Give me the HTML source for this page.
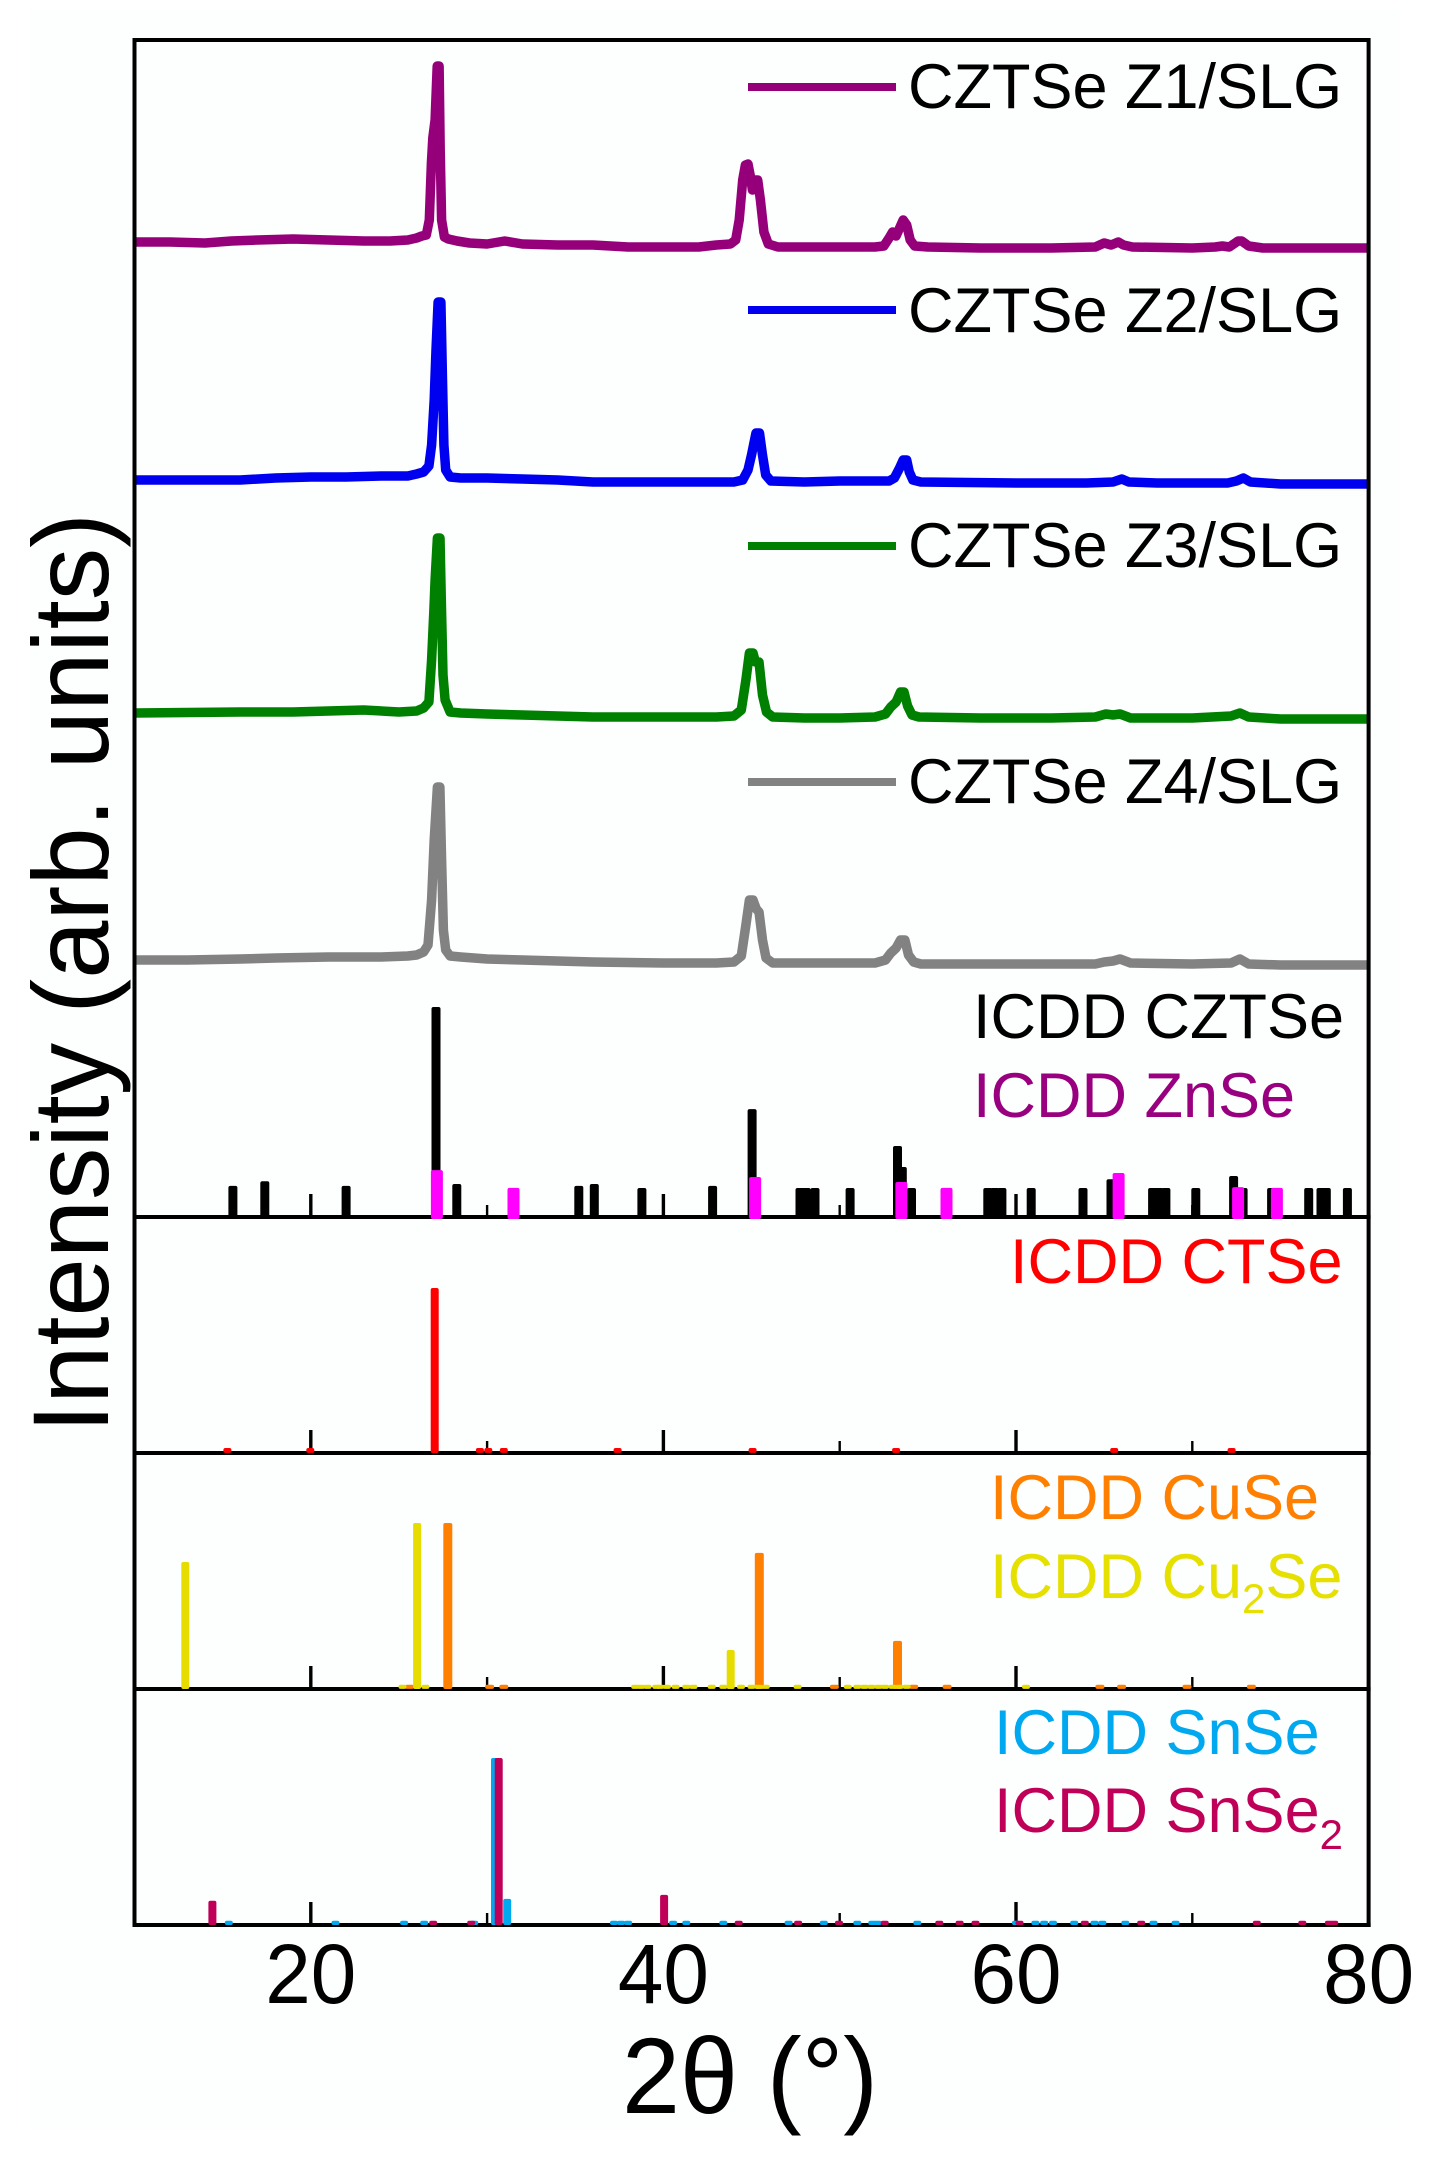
<!DOCTYPE html>
<html lang="en">
<head>
<meta charset="utf-8">
<title>CZTSe XRD patterns</title>
<style>
html,body{margin:0;padding:0;background:#fff;}
#chart{display:block;width:1430px;height:2159px;font-family:"Liberation Sans",Arial,sans-serif;}
text{font-family:"Liberation Sans",Arial,sans-serif;}
</style>
</head>
<body>
<svg id="chart" xmlns="http://www.w3.org/2000/svg" width="1430" height="2159" viewBox="0 0 1430 2159">
  <rect x="0" y="0" width="1430" height="2159" fill="#ffffff"/>
  <rect x="30" y="10" width="1370" height="2120" fill="#fdfefe"/>
  <g id="traces"></g>
  <g id="sticks"></g>
  <g id="axes"></g>

  <g font-size="63">
    <rect x="748" y="83" width="148" height="8" fill="#95007a"/>
    <text x="908" y="108" fill="#000">CZTSe Z1/SLG</text>
    <rect x="748" y="306" width="148" height="8" fill="#0000f0"/>
    <text x="908" y="332" fill="#000">CZTSe Z2/SLG</text>
    <rect x="748" y="542" width="148" height="8" fill="#008000"/>
    <text x="908" y="567" fill="#000">CZTSe Z3/SLG</text>
    <rect x="748" y="778" width="148" height="8" fill="#828282"/>
    <text x="908" y="803" fill="#000">CZTSe Z4/SLG</text>
    <text x="973" y="1038" fill="#000">ICDD CZTSe</text>
    <text x="973" y="1117" fill="#990080">ICDD ZnSe</text>
    <text x="1010" y="1283" fill="#ff0000">ICDD CTSe</text>
    <text x="990" y="1519" fill="#ff8000">ICDD CuSe</text>
    <text x="990" y="1598" fill="#e6e000">ICDD Cu<tspan dy="15" font-size="42">2</tspan><tspan dy="-15">Se</tspan></text>
    <text x="994" y="1754" fill="#00a8f0">ICDD SnSe</text>
    <text x="994" y="1832" fill="#c00058">ICDD SnSe<tspan dy="17" font-size="42">2</tspan></text>
  </g>

  <text transform="translate(108,1433) rotate(-90)" font-size="108" textLength="920" lengthAdjust="spacingAndGlyphs" fill="#000">Intensity (arb. units)</text>
  <text x="622" y="2113" font-size="108" textLength="256" lengthAdjust="spacingAndGlyphs" fill="#000">2θ (°)</text>
</svg>

<script>
// Axis range and tick labels
const xDomain = [10, 80];
const xMajorTicks = [20, 40, 60, 80];
const xMinorTicks = [30, 50, 70];

// Measured patterns: [2theta, intensity above the trace offset]
const z1Pattern = [[10,8],[12,8],[14,7],[15.5,9],[17,10],[19,11],[21,10],[23,9],[24.5,9],[25.5,10],[26,12],[26.3,14],[26.55,15],[26.72,30],[26.84,87],[26.92,112],[27.05,130],[27.17,184],[27.28,184],[27.34,100],[27.42,30],[27.58,13],[27.8,11],[28.3,9],[29,7],[30,6],[31,9],[32,6],[34,5],[36,5],[38,3],[40,3],[42,3],[43,5],[43.8,6],[44.1,10],[44.3,30],[44.5,70],[44.65,85],[44.8,86],[44.95,72],[45.05,60],[45.2,70],[45.35,70],[45.5,50],[45.7,18],[45.95,6],[46.5,3],[48,3],[50,3],[52,3],[52.5,4],[52.8,12],[53,18],[53.2,14],[53.4,22],[53.6,30],[53.8,25],[54,10],[54.25,4],[55,3],[58,2],[60,2],[62,2],[64.5,3],[65,7],[65.4,5],[65.8,8],[66.1,5],[66.6,3],[70,2],[71.3,3],[71.7,4],[72.1,3],[72.6,9],[72.8,9],[73.2,4],[74,2],[78,2],[80,2]];
const z2Pattern = [[10,6],[12,6],[14,6],[16,6],[18,8],[20,9],[22,9],[24,10],[25.5,10],[26,12],[26.4,14],[26.7,20],[26.85,41],[27.0,86],[27.1,136],[27.22,184],[27.38,184],[27.47,106],[27.55,41],[27.65,16],[27.9,9],[28.5,8],[30,8],[32,7],[34,6],[36,4],[40,4],[44,4],[44.5,6],[44.8,16],[45.0,31],[45.25,53],[45.45,53],[45.62,31],[45.8,11],[46.1,5],[48,4],[50,5],[52,5],[52.8,5],[53.1,8],[53.4,18],[53.6,26],[53.8,26],[53.95,14],[54.15,6],[54.6,4],[60,3],[64,3],[65.5,4],[66,7],[66.4,4],[68,3],[72,3],[72.5,5],[72.9,8],[73.3,4],[75,2],[80,2]];
const z3Pattern = [[10,8],[13,8.5],[16,9],[19,9],[21,10],[23,11],[25,9],[26,10],[26.4,13],[26.7,19],[26.85,61],[26.98,111],[27.05,141],[27.18,183],[27.33,183],[27.4,121],[27.5,46],[27.62,21],[27.9,9],[28.5,8],[30,7],[32,6],[36,4],[40,4],[43,4],[44,5],[44.42,11],[44.68,41],[44.88,68],[45.08,68],[45.22,59],[45.42,59],[45.62,26],[45.85,9],[46.2,4],[48,3],[50,3],[52,4],[52.6,7],[52.9,14],[53.2,19],[53.45,29],[53.65,29],[53.85,15],[54.1,6],[54.5,4],[58,3],[62,3],[64.5,4],[65.1,7],[65.5,6],[65.9,7],[66.5,3],[70,3],[72.2,5],[72.7,8],[73.2,4],[75,2],[80,2]];
const z4Pattern = [[10,7],[13,7],[16,8],[18,9],[21,10],[24,10],[25.5,11],[26,12],[26.4,15],[26.65,22],[26.85,67],[27.0,127],[27.18,180],[27.32,180],[27.42,107],[27.52,37],[27.65,17],[27.9,11],[28.5,10],[30,8],[32,7],[36,5],[40,4],[43,4],[44,5],[44.42,11],[44.68,42],[44.88,67],[45.08,67],[45.27,58],[45.42,55],[45.62,27],[45.82,9],[46.2,4],[48,4],[52,4],[52.6,7],[52.9,14],[53.2,19],[53.45,27],[53.7,27],[53.9,12],[54.2,5],[54.6,3],[60,3],[64.5,3],[65,5],[65.5,6],[65.9,8],[66.5,4],[70,3],[72.2,4],[72.7,8],[73.2,3],[75,2],[80,2]];

// Reference lines: [2theta, relative intensity]
const cztseLines = [[15.58,14.8],[17.39,17],[22.0,14.8],[27.1,100],[28.28,15.7],[35.2,14.8],[36.08,15.7],[38.78,13.8],[42.79,14.8],[45.03,51.4],[47.75,13.8],[48.1,13.8],[48.6,13.8],[50.59,13.8],[53.28,33.8],[53.55,23.8],[54.07,13.8],[58.4,13.8],[58.8,13.8],[59.2,13.8],[60.86,13.8],[63.8,13.8],[65.39,18],[67.75,13.8],[68.1,13.8],[68.5,13.8],[70.2,13.8],[72.34,19.5],[72.88,13.8],[74.5,13.8],[76.6,13.8],[77.3,13.8],[77.6,13.8],[78.8,13.8]];
const znseLines = [[27.15,23.3],[31.5,14.8],[45.2,20],[53.5,17.6],[56.06,14.8],[65.82,21.9],[72.6,15.2],[74.8,14.8]];
const ctseLines = [[15.27,3],[19.97,3],[27.03,100],[29.59,3],[30.07,3],[30.95,3],[37.4,3],[45.06,3],[53.2,3],[65.57,3],[72.23,3]];
const cuseLines = [[25.6,2.5],[27.77,100],[30.14,2.5],[30.95,2.5],[45.44,82],[49.7,2.5],[53.28,29],[54.2,2.5],[56.09,2.5],[64.76,2.5],[65.99,2.5],[69.7,2.5],[73.35,2.5]];
const cu2seLines = [[12.88,76.5],[25.2,2.5],[26.03,100],[26.5,2.5],[38.4,2.5],[38.73,2.5],[39.1,2.5],[39.6,2.5],[39.83,2.5],[40.2,2.5],[40.69,2.5],[41.3,2.5],[41.7,2.5],[42.74,2.5],[43.4,2.5],[43.82,23.5],[44.4,2.5],[45.0,2.5],[45.4,2.5],[45.8,2.5],[47.61,2.5],[50.46,2.5],[51.0,2.5],[51.4,2.5],[51.8,2.5],[52.2,2.5],[52.57,2.5],[53.0,2.5],[53.4,2.5],[53.8,2.5],[60.57,2.5]];
const snseLines = [[15.35,2.5],[21.4,2.5],[25.29,2.5],[26.43,2.5],[29.27,2.5],[30.45,100],[31.14,15.6],[37.2,2.5],[37.6,2.5],[38.0,2.5],[40.55,2.5],[41.3,2.5],[43.4,2.5],[47.1,2.5],[49.1,2.5],[51,2.5],[51.85,2.5],[52.15,2.5],[54.4,2.5],[60,2.5],[61.1,2.5],[61.6,2.5],[62.1,2.5],[63.3,2.5],[64.45,2.5],[64.9,2.5],[66.2,2.5],[67.8,2.5],[69.05,2.5]];
const snse2Lines = [[14.42,14.5],[26.94,2.5],[29.1,2.5],[30.66,100],[40.04,18],[44.27,2.5],[47.64,2.5],[49.96,2.5],[52.55,2.5],[55.65,2.5],[56.8,2.5],[57.7,2.5],[60.2,2.5],[63.9,2.5],[67.1,2.5],[73.66,2.5],[76.24,2.5],[77.75,2.5],[78.05,2.5]];

const svgNS = 'http://www.w3.org/2000/svg';
const plotLeft = 134.5;
const plotRight = 1368.6;
const plotTop = 40;

function xScale(angle) {
  return plotLeft + (angle - xDomain[0]) * (plotRight - plotLeft) / (xDomain[1] - xDomain[0]);
}
function traceY(offset, intensity) {
  return offset - intensity;
}
function stickHeight(panelScale, intensity) {
  return intensity * panelScale;
}
function make(tag, parent) {
  const el = document.createElementNS(svgNS, tag);
  parent.appendChild(el);
  return el;
}

const traceGroup = document.getElementById('traces');
const stickGroup = document.getElementById('sticks');
const axisGroup = document.getElementById('axes');

function drawTrace(pattern, offset, colour, name) {
  const line = make('polyline', traceGroup);
  
  
  line.setAttribute('points', pattern.map(function (p) {
    return xScale(p[0]).toFixed(1) + ',' + traceY(offset, p[1]).toFixed(1);
  }).join(' '));
  line.setAttribute('fill', 'none');
  line.setAttribute('stroke', colour);
  line.setAttribute('stroke-width', '9.5');
  line.setAttribute('stroke-linejoin', 'round');
}

function drawSticks(lines, bottom, panelScale, colour, width, name) {
  lines.forEach(function (p) {
    const h = stickHeight(panelScale, p[1]);
    const bar = make('rect', stickGroup);
    
    
    bar.setAttribute('x', (xScale(p[0]) - width / 2).toFixed(1));
    bar.setAttribute('y', (bottom - h).toFixed(1));
    bar.setAttribute('width', width);
    bar.setAttribute('height', h.toFixed(1));
    bar.setAttribute('rx', '2');
    bar.setAttribute('fill', colour);
  });
}

drawTrace(z1Pattern, 250, '#95007a', 'trace-z1');
drawTrace(z2Pattern, 486, '#0000f0', 'trace-z2');
drawTrace(z3Pattern, 721, '#008000', 'trace-z3');
drawTrace(z4Pattern, 967, '#828282', 'trace-z4');

const panelBottoms = [1217, 1453, 1689, 1925];

// Ticks, panel separators and frame
panelBottoms.forEach(function (bottom, i) {
  xMajorTicks.forEach(function (t) {
    if (t === xDomain[1]) return;
    const tick = make('rect', axisGroup);
    
    
    tick.setAttribute('x', (xScale(t) - 1.7).toFixed(1));
    tick.setAttribute('y', bottom - 23);
    tick.setAttribute('width', '3.4');
    tick.setAttribute('height', '23');
    tick.setAttribute('fill', '#000');
  });
  xMinorTicks.forEach(function (t) {
    const tick = make('rect', axisGroup);
    
    
    tick.setAttribute('x', (xScale(t) - 1.2).toFixed(1));
    tick.setAttribute('y', bottom - 12);
    tick.setAttribute('width', '2.4');
    tick.setAttribute('height', '12');
    tick.setAttribute('fill', '#000');
  });
  const sep = make('line', axisGroup);
  
  
  sep.setAttribute('x1', plotLeft - 2);
  sep.setAttribute('x2', plotRight + 2);
  sep.setAttribute('y1', bottom);
  sep.setAttribute('y2', bottom);
  sep.setAttribute('stroke', '#000');
  sep.setAttribute('stroke-width', '4');
});

const frame = make('rect', axisGroup);


frame.setAttribute('x', plotLeft);
frame.setAttribute('y', plotTop);
frame.setAttribute('width', plotRight - plotLeft);
frame.setAttribute('height', panelBottoms[3] - plotTop);
frame.setAttribute('fill', 'none');
frame.setAttribute('stroke', '#000');
frame.setAttribute('stroke-width', '4');

xMajorTicks.forEach(function (t) {
  const label = make('text', axisGroup);
  
  
  label.setAttribute('x', xScale(t).toFixed(1));
  label.setAttribute('y', '2003');
  label.setAttribute('font-size', '84');
  label.setAttribute('text-anchor', 'middle');
  label.setAttribute('textLength', '91');
  label.setAttribute('lengthAdjust', 'spacingAndGlyphs');
  label.setAttribute('fill', '#000');
  label.textContent = String(t);
});

// Sticks sit on top of the panel baselines
axisGroup.parentNode.appendChild(stickGroup);

drawSticks(ctseLines, 1453, 1.65, '#ff0000', 8, 'stick-ctse');
drawSticks(cuseLines, 1689, 1.66, '#ff8000', 9, 'stick-cuse');
drawSticks(cu2seLines, 1689, 1.66, '#e6dc00', 8, 'stick-cu2se');
drawSticks(snseLines, 1925, 1.67, '#00a8f0', 8, 'stick-snse');
drawSticks(snse2Lines, 1925, 1.67, '#c00058', 8, 'stick-snse2');
drawSticks(cztseLines, 1217, 2.1, '#000000', 9, 'stick-cztse');
drawSticks(znseLines, 1219, 2.1, '#ff00ff', 12, 'stick-znse');
</script>
</body>
</html>
